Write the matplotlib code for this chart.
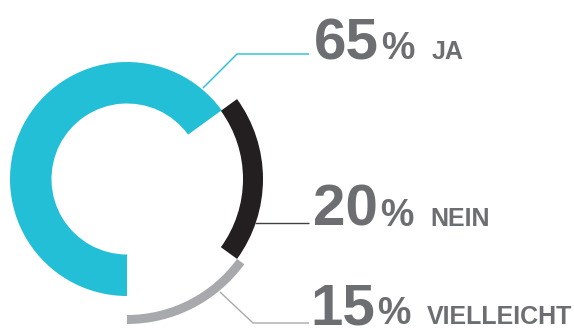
import numpy as np
import matplotlib.pyplot as plt
from matplotlib.patches import Wedge

# Umfrageergebnis
antworten = ['JA', 'NEIN', 'VIELLEICHT']
prozent = [65, 20, 15]
farben = ['#23bfd6', '#231f20', '#a7a9ac']
linien_farben = ['#23bfd6', '#414042', '#a7a9ac']

# Ringe: jeder Teil hat einen eigenen Innen-/Aussenradius (Pixel)
radien = [(75.5, 117), (116, 136), (136, 145)]
mitte = (127, 150)

fig = plt.figure(figsize=(5.74, 3.29), dpi=100)
ax = fig.add_axes([0, 0, 1, 1])
ax.set_xlim(0, 574)
ax.set_ylim(0, 329)
ax.set_aspect('equal')
ax.axis('off')

# Segmente im Uhrzeigersinn ab 6 Uhr
start = 270.0
for wert, farbe, (r_in, r_out) in zip(prozent, farben, radien):
    ende = start - wert * 3.6
    ax.add_patch(Wedge(mitte, r_out, ende, start, width=r_out - r_in,
                       facecolor=farbe, edgecolor='none'))
    start = ende

# Hinweislinien zu den Beschriftungen
hinweise = [
    [(203, 241), (237, 275), (309, 275)],
    [(255, 106), (309, 106)],
    [(220, 37), (253, 6), (309, 6)],
]
for punkte, farbe in zip(hinweise, linien_farben):
    xs, ys = zip(*punkte)
    ax.plot(xs, ys, color=farbe, lw=1.0, solid_capstyle='butt')

# Beschriftungen: Zahl, Prozentzeichen, Antwort nebeneinander
textfarbe = '#6d6e71'
schrift = 'Liberation Sans'
zeilen_y = [270, 103, 4.5]
zahl_x = [314, 313, 310]
fig.canvas.draw()
renderer = fig.canvas.get_renderer()
inv = ax.transData.inverted()


def rechter_rand(t):
    bb = t.get_window_extent(renderer)
    return inv.transform((bb.x1, bb.y0))[0]


for wert, name, y, x in zip(prozent, antworten, zeilen_y, zahl_x):
    t1 = ax.text(x, y, str(wert), fontsize=42, fontweight='bold', color=textfarbe,
                 family=schrift, va='baseline', ha='left')
    x2 = rechter_rand(t1) + 2
    t2 = ax.text(x2, y, '%', fontsize=27, fontweight='bold', color=textfarbe,
                 family=schrift, va='baseline', ha='left')
    x3 = rechter_rand(t2) + 17
    ax.text(x3, y, name, fontsize=18, fontweight='bold', color=textfarbe,
            family=schrift, va='baseline', ha='left')

fig.savefig('out.png', dpi=100)
